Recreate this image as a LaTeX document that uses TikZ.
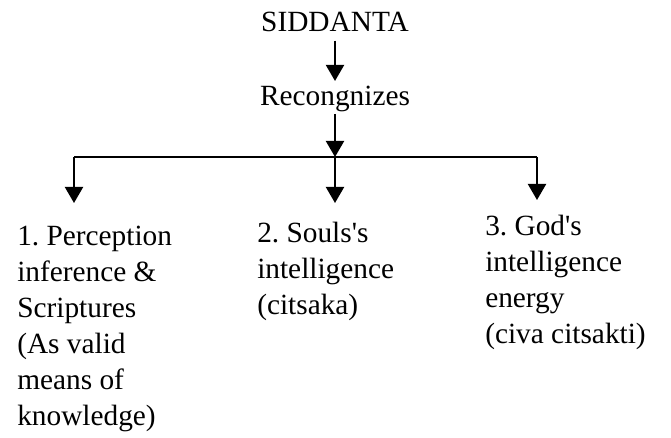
\documentclass[tikz,border=0pt]{standalone}
\usepackage{fontspec}
\setmainfont{Liberation Serif}
\usepackage{tikz}
\usetikzlibrary{arrows.meta}
\frenchspacing
\tikzset{
  txt/.style={inner sep=4pt,font=\fontsize{22}{27}\selectfont},
  coltext/.style={inner sep=0pt,anchor=north west,align=left,font=\fontsize{22}{27}\selectfont},
  arr/.style={line width=1.5pt,-{Triangle[width=13.5pt,length=12pt]}},
  bar/.style={line width=1.5pt}
}
\newcommand{\colnode}[4]{\node[coltext] (#1) at ( #2 , #3 ) {#4};}
\newcommand{\q}{\textquotesingle}

\begin{document}
\begin{tikzpicture}[x=0.75pt,y=-0.75pt]
        \useasboundingbox (0,0) rectangle (671,438);
        % heading
        \node[txt,anchor=base] (siddanta) at (335,32) {SIDDANTA};
        \node[txt,anchor=base] (recog) at (335,106) {Recongnizes};
        \draw[arr,shorten <=2pt] (siddanta.south) -- (recog.north);
        % branch bar
        \coordinate (hub) at (335,157);
        \coordinate (barl) at (74,157);
        \coordinate (barr) at (537,157);
        \coordinate (tip1) at (74,203);
        \coordinate (tip2) at (335,203);
        \coordinate (tip3) at (537,200);
        \draw[arr,shorten <=-3pt] (recog.south) -- (hub);
        \draw[bar] (barl) -- (barr);
        \draw[arr] (barl) -- (tip1);
        \draw[arr] (hub) -- (tip2);
        \draw[arr] (barr) -- (tip3);
        % columns
        \colnode{means}{17}{219.8}{\strut 1. Perception\\inference \&\\Scriptures\\(As valid\\means of\\knowledge)}
        \colnode{soul}{257}{216.8}{\strut 2. Souls\q{}s\\intelligence\\(citsaka)}
        \colnode{god}{485}{209.8}{\strut 3. God\q{}s\\intelligence\\energy\\(civa citsakti)}
\end{tikzpicture}
\end{document}
